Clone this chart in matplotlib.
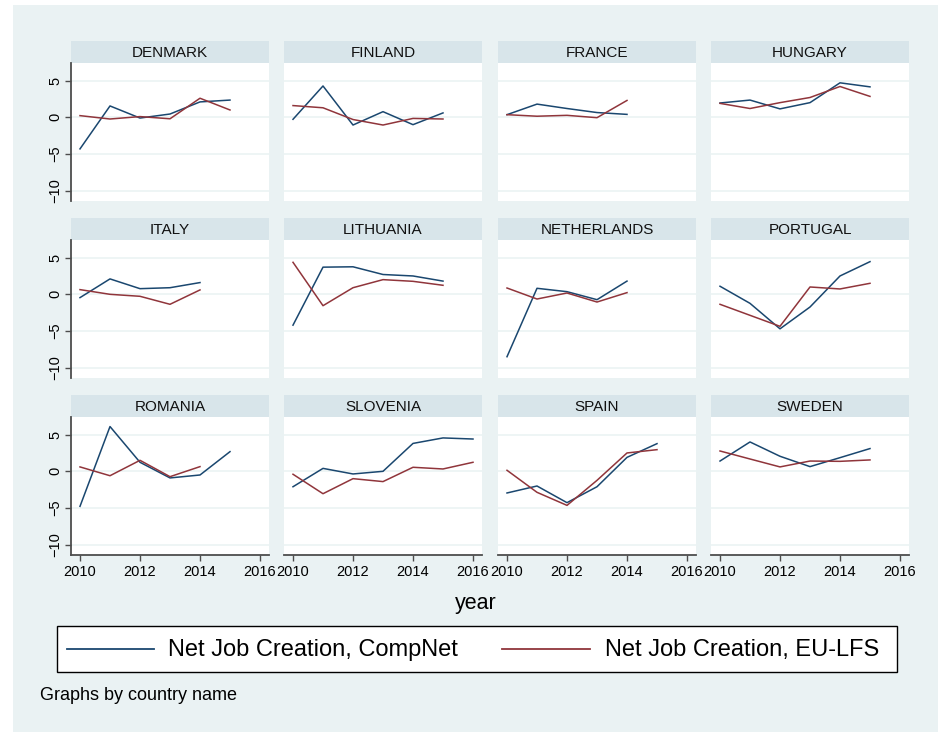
import matplotlib.pyplot as plt
from matplotlib.patches import Rectangle
from matplotlib.lines import Line2D

plt.rcParams['font.family'] = ['Liberation Sans', 'DejaVu Sans']

# net job creation by country, CompNet vs EU-LFS (percent)
countries = ['DENMARK', 'FINLAND', 'FRANCE', 'HUNGARY',
             'ITALY', 'LITHUANIA', 'NETHERLANDS', 'PORTUGAL',
             'ROMANIA', 'SLOVENIA', 'SPAIN', 'SWEDEN']

years_compnet = {
    'DENMARK': [2010, 2011, 2012, 2013, 2014, 2015],
    'FINLAND': [2010, 2011, 2012, 2013, 2014, 2015],
    'FRANCE': [2010, 2011, 2012, 2013, 2014],
    'HUNGARY': [2010, 2011, 2012, 2013, 2014, 2015],
    'ITALY': [2010, 2011, 2012, 2013, 2014],
    'LITHUANIA': [2010, 2011, 2012, 2013, 2014, 2015],
    'NETHERLANDS': [2010, 2011, 2012, 2013, 2014],
    'PORTUGAL': [2010, 2011, 2012, 2013, 2014, 2015],
    'ROMANIA': [2010, 2011, 2012, 2013, 2014, 2015],
    'SLOVENIA': [2010, 2011, 2012, 2013, 2014, 2015, 2016],
    'SPAIN': [2010, 2011, 2012, 2013, 2014, 2015],
    'SWEDEN': [2010, 2011, 2012, 2013, 2014, 2015],
}
compnet = {
    'DENMARK': [-4.3, 1.55, -0.1, 0.45, 2.1, 2.35],
    'FINLAND': [-0.27, 4.27, -1.05, 0.77, -1.0, 0.6],
    'FRANCE': [0.36, 1.8, 1.2, 0.65, 0.4],
    'HUNGARY': [1.95, 2.35, 1.15, 2.0, 4.7, 4.15],
    'ITALY': [-0.45, 2.1, 0.77, 0.9, 1.6],
    'LITHUANIA': [-4.2, 3.7, 3.75, 2.7, 2.5, 1.8],
    'NETHERLANDS': [-8.5, 0.82, 0.36, -0.73, 1.8],
    'PORTUGAL': [1.1, -1.23, -4.7, -1.73, 2.5, 4.45],
    'ROMANIA': [-4.77, 6.1, 1.23, -0.9, -0.5, 2.68],
    'SLOVENIA': [-2.1, 0.4, -0.36, 0.0, 3.8, 4.55, 4.4],
    'SPAIN': [-2.95, -2.0, -4.27, -2.1, 1.9, 3.77],
    'SWEDEN': [1.4, 4.0, 2.05, 0.64, 1.86, 3.1],
}

years_lfs = {
    'DENMARK': [2010, 2011, 2012, 2013, 2014, 2015],
    'FINLAND': [2010, 2011, 2012, 2013, 2014, 2015],
    'FRANCE': [2010, 2011, 2012, 2013, 2014],
    'HUNGARY': [2010, 2011, 2012, 2013, 2014, 2015],
    'ITALY': [2010, 2011, 2012, 2013, 2014],
    'LITHUANIA': [2010, 2011, 2012, 2013, 2014, 2015],
    'NETHERLANDS': [2010, 2011, 2012, 2013, 2014],
    'PORTUGAL': [2010, 2011, 2012, 2013, 2014, 2015],
    'ROMANIA': [2010, 2011, 2012, 2013, 2014],
    'SLOVENIA': [2010, 2011, 2012, 2013, 2014, 2015, 2016],
    'SPAIN': [2010, 2011, 2012, 2013, 2014, 2015],
    'SWEDEN': [2010, 2011, 2012, 2013, 2014, 2015],
}
eulfs = {
    'DENMARK': [0.23, -0.23, 0.1, -0.2, 2.6, 1.0],
    'FINLAND': [1.6, 1.3, -0.3, -1.05, -0.15, -0.23],
    'FRANCE': [0.36, 0.15, 0.27, -0.05, 2.3],
    'HUNGARY': [1.9, 1.2, 2.0, 2.7, 4.2, 2.85],
    'ITALY': [0.64, 0.0, -0.27, -1.36, 0.6],
    'LITHUANIA': [4.36, -1.55, 0.9, 2.0, 1.77, 1.23],
    'NETHERLANDS': [0.86, -0.64, 0.18, -1.05, 0.23],
    'PORTUGAL': [-1.36, -2.86, -4.36, 1.0, 0.73, 1.5],
    'ROMANIA': [0.6, -0.6, 1.5, -0.73, 0.64],
    'SLOVENIA': [-0.4, -3.05, -1.0, -1.4, 0.55, 0.32, 1.23],
    'SPAIN': [0.14, -2.86, -4.64, -1.23, 2.5, 2.95],
    'SWEDEN': [2.77, 1.68, 0.6, 1.4, 1.36, 1.55],
}

series_labels = ['Net Job Creation, CompNet', 'Net Job Creation, EU-LFS']
yticks = [-10, -5, 0, 5]
xticks = [2010, 2012, 2014, 2016]

navy = '#1a476f'
maroon = '#90353b'
bg = '#eaf2f3'
strip = '#d8e5ea'
axcol = '#4d4d4d'

W, H = 938, 732
fig = plt.figure(figsize=(W / 100, H / 100), dpi=100)
fig.patch.set_facecolor('white')
fig.add_artist(Rectangle((13 / W, 0), 1, 1 - 5 / H, transform=fig.transFigure,
                         facecolor=bg, edgecolor='none', zorder=-10))


def box(x0, y0, x1, y1):
    # pixel box (top-left origin) -> figure fraction rect
    return [x0 / W, 1 - y1 / H, (x1 - x0) / W, (y1 - y0) / H]


def fx(px):
    return px / W


def fy(py):
    return 1 - py / H


col_left = [71, 284, 498, 711]
col_w = 198
row_top = [41, 218, 395]
strip_h = 22
plot_h = 138

for i, name in enumerate(countries):
    r, c = divmod(i, 4)
    x0 = col_left[c]
    y0 = row_top[r]

    hdr = fig.add_axes(box(x0, y0, x0 + col_w, y0 + strip_h))
    hdr.set_facecolor(strip)
    hdr.set_xticks([])
    hdr.set_yticks([])
    for s in hdr.spines.values():
        s.set_visible(False)
    hdr.text(0.5, 0.45, name, ha='center', va='center', fontsize=11,
             color='#111111', transform=hdr.transAxes)

    ax = fig.add_axes(box(x0, y0 + strip_h, x0 + col_w, y0 + strip_h + plot_h))
    ax.set_facecolor('white')
    ax.plot(years_compnet[name], compnet[name], color=navy, lw=1.1)
    ax.plot(years_lfs[name], eulfs[name], color=maroon, lw=1.1)
    ax.set_xlim(2009.7, 2016.3)
    ax.set_ylim(-11.4, 7.4)
    ax.set_yticks(yticks)
    ax.set_xticks(xticks)
    for v in yticks:
        ax.axhline(v, color=bg, lw=1.1, zorder=0)
    for s in ['top', 'right']:
        ax.spines[s].set_visible(False)
    ax.spines['left'].set_visible(c == 0)
    ax.spines['bottom'].set_visible(r == 2)
    ax.spines['left'].set_color(axcol)
    ax.spines['bottom'].set_color(axcol)
    ax.spines['left'].set_linewidth(1.3)
    ax.spines['bottom'].set_linewidth(1.3)
    ax.tick_params(axis='y', left=(c == 0), labelleft=(c == 0), length=4,
                   width=1, color=axcol, labelsize=10.5, pad=2)
    ax.tick_params(axis='x', bottom=(r == 2), labelbottom=(r == 2), length=4,
                   width=1, color=axcol, labelsize=10.5, pad=3)
    if c == 0:
        for lab in ax.get_yticklabels():
            lab.set_rotation(90)
            lab.set_va('center')

fig.text(fx(476), fy(604), 'year', ha='center', va='center', fontsize=15.5)

# legend box drawn by hand so the two keys sit where they should
fig.add_artist(Rectangle((fx(57), fy(672)), fx(897) - fx(57), fy(626) - fy(672),
                         transform=fig.transFigure, facecolor='white',
                         edgecolor='black', lw=1.0))
for (lx0, lx1, tx), col, lab in zip([(67, 154, 168), (502, 590, 605)],
                                    [navy, maroon], series_labels):
    fig.add_artist(Line2D([fx(lx0), fx(lx1)], [fy(649), fy(649)],
                          transform=fig.transFigure, color=col, lw=1.3))
    fig.text(fx(tx), fy(650), lab, ha='left', va='center', fontsize=17)

fig.text(fx(40), fy(695), 'Graphs by country name', ha='left', va='center',
         fontsize=13)

fig.savefig('out.png', dpi=100, facecolor=fig.get_facecolor())
